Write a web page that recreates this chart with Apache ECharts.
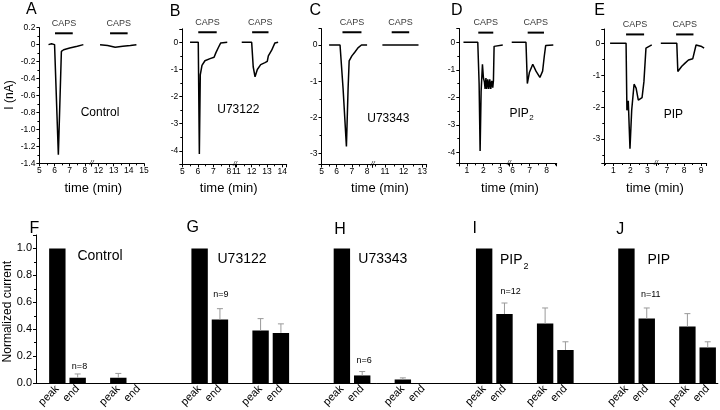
<!DOCTYPE html>
<html><head><meta charset="utf-8">
<script src="https://cdn.jsdelivr.net/npm/echarts@6/dist/echarts.min.js"></script>
<style>html,body{margin:0;padding:0;background:#fff}#c{width:720px;height:410px}</style>
</head><body><div id="c"></div>
<script>
// ---------------- DATA ----------------
// current traces [time (min), current (nA)]
const traceA1 = [[5.6,0],[5.8,0.01],[6.0,0],[6.12,-0.01],[6.25,-1.3],[6.45,-0.08],[6.6,-0.06],[7.0,-0.04],[7.5,-0.02],[7.9,0]];
const traceA2 = [[12.1,0],[12.6,-0.01],[13.1,-0.03],[13.6,-0.02],[14.1,-0.01],[14.5,0]];
const traceB1 = [[5.5,0],[6.03,0],[6.1,-4.12],[6.16,-1.2],[6.27,-0.85],[6.46,-0.68],[6.79,-0.6],[7.05,-0.55],[7.17,-0.38],[7.32,-0.2],[7.48,-0.02],[7.9,0]];
const traceB2 = [[11.35,0],[12.0,0],[12.1,-0.9],[12.22,-1.27],[12.37,-1.0],[12.59,-0.82],[12.87,-0.75],[13.02,-0.7],[13.09,-0.5],[13.3,-0.3],[13.52,-0.02],[13.73,0]];
const traceC1 = [[5.5,0],[6.22,0],[6.42,-1.2],[6.64,-2.8],[6.75,-1.2],[6.82,-0.44],[7.0,-0.3],[7.19,-0.2],[7.4,-0.08],[7.63,0],[8.0,0]];
const traceC2 = [[10.86,0],[11.5,0],[12.0,0],[12.8,0]];
const traceD1 = [[0.8,0],[1.66,0],[1.74,-1.5],[1.8,-3.95],[1.86,-1.8],[1.94,-0.8],[2.0,-1.3],[2.06,-1.45],[2.1,-1.7],[2.15,-1.3],[2.2,-1.7],[2.26,-1.35],[2.32,-1.7],[2.38,-1.35],[2.44,-1.7],[2.5,-1.4],[2.56,-1.65],[2.6,-1.4],[2.64,-0.15],[3.16,-0.1]];
const traceD2 = [[5.94,0],[6.78,0],[6.86,-1.5],[6.98,-1.1],[7.18,-0.8],[7.37,-1.05],[7.6,-1.28],[7.76,-1.05],[7.86,-0.5],[7.94,-0.12],[8.39,-0.1]];
const traceE1 = [[0.81,0],[1.75,0],[1.8,-2.1],[1.88,-1.8],[1.98,-3.3],[2.08,-2.1],[2.22,-1.28],[2.34,-1.4],[2.47,-1.78],[2.57,-1.82],[2.69,-1.7],[2.8,-1.2],[2.92,-0.15],[3.26,-0.05]];
const traceE2 = [[6.65,0],[7.58,0],[7.64,-0.88],[7.87,-0.72],[8.06,-0.62],[8.26,-0.52],[8.51,-0.48],[8.7,-0.05],[9.03,-0.1],[9.17,-0.15]];

// capsaicin application periods [start, end] (min) and level of the bar (nA)
const capsA = [[6.03,7.2],[12.76,13.92]];
const capsB = [[6.03,7.22],[12.03,13.1]];
const capsC = [[6.38,7.63],[11.36,12.3]];
const capsD = [[1.69,2.59],[6.88,7.84]];
const capsE = [[1.75,2.81],[7.54,8.55]];
const capsLevel = [0.134, 0.37, 0.35, 0.35, 0.28];

// normalized currents (mean) and SEM, order: peak, end, peak, end
const barCategories = ['peak','end','peak','end'];
const groupNames = ['Control','U73122','U73343','PIP2','PIP'];
const groupN = ['n=8','n=9','n=6','n=12','n=11'];
const controlMean = [1.0, 0.04, 0.04, 0.0];
const controlSem  = [0, 0.028, 0.032, 0];
const u73122Mean  = [1.0, 0.472, 0.39, 0.373];
const u73122Sem   = [0, 0.081, 0.089, 0.067];
const u73343Mean  = [1.0, 0.057, 0.027, 0.0];
const u73343Sem   = [0, 0.029, 0.012, 0];
const pip2Mean    = [1.0, 0.513, 0.442, 0.246];
const pip2Sem     = [0, 0.082, 0.116, 0.061];
const pipMean     = [1.0, 0.479, 0.42, 0.265];
const pipSem      = [0, 0.079, 0.096, 0.042];

// ---------------- LAYOUT ----------------
const FONT = "'Liberation Sans', Arial, sans-serif";
const isInt = v => Math.abs(v - Math.round(v)) < 1e-6;
const intFmt = v => isInt(v) ? String(Math.round(v)) : '';

const panels = [
  {traces:[traceA1,traceA2], caps:capsA, yMin:-1.4, yMax:0.2, yInterval:0.2, top:27.7, height:135.6,
   segs:[{x:39.4,w:52.3,min:5,max:8.45},{x:91.7,w:52.3,min:11.55,max:15}]},
  {traces:[traceB1,traceB2], caps:capsB, yMin:-4.5, yMax:0.5, top:28.8, height:135.5,
   segs:[{x:182.3,w:52.7,min:5,max:8.4},{x:235,w:51.7,min:10.91,max:14.29}]},
  {traces:[traceC1,traceC2], caps:capsC, yMin:-3.3, yMax:0.45, top:28.7, height:135.8,
   segs:[{x:321.5,w:51.2,min:5,max:8.37},{x:372.7,w:54,min:10.34,max:13.24}]},
  {traces:[traceD1,traceD2], caps:capsD, yMin:-4.4, yMax:0.5, top:28.5, height:134.8,
   segs:[{x:459.3,w:49.7,min:0.55,max:3.535},{x:509,w:47.7,min:5.78,max:8.59}]},
  {traces:[traceE1,traceE2], caps:capsE, yMin:-3.75, yMax:0.45, top:29, height:134,
   segs:[{x:604.3,w:51.7,min:0.47,max:3.51},{x:656,w:50.7,min:6.37,max:9.32}]}
];

const grids=[], xAxes=[], yAxes=[], series=[], graphics=[];
const axisLineStyle = {color:'#000', width:1};

panels.forEach((p, pi) => {
  p.segs.forEach((s, si) => {
    const gi = grids.length;
    grids.push({left:s.x, top:p.top, width:s.w, height:p.height});
    xAxes.push({type:'value', gridIndex:gi, min:s.min, max:s.max, minInterval:1, maxInterval:1,
      axisLine:{show:true, onZero:false, lineStyle:axisLineStyle},
      axisTick:{show:true, length:3, lineStyle:axisLineStyle},
      minorTick:{show:true, splitNumber:2, length:2, lineStyle:axisLineStyle},
      splitLine:{show:false}, minorSplitLine:{show:false},
      axisLabel:{show:true, fontSize:8.5, color:'#000', fontFamily:FONT, margin:3, formatter:intFmt}});
    const y = {type:'value', gridIndex:gi, min:p.yMin, max:p.yMax, show: si===0,
      axisLine:{show:true, onZero:false, lineStyle:axisLineStyle},
      axisTick:{show:true, length:3, lineStyle:axisLineStyle},
      minorTick:{show:true, splitNumber:2, length:2, lineStyle:axisLineStyle},
      splitLine:{show:false}, minorSplitLine:{show:false},
      axisLabel:{show:true, fontSize:8.5, color:'#000', fontFamily:FONT, margin:4}};
    if (p.yInterval) {
      y.interval = p.yInterval;
      y.axisLabel.formatter = v => Math.abs(v) < 1e-9 ? '0' : v.toFixed(1);
    } else {
      y.minInterval = 1; y.maxInterval = 1;
      y.axisLabel.formatter = intFmt;
    }
    yAxes.push(y);
    series.push({type:'line', xAxisIndex:gi, yAxisIndex:gi, data:p.traces[si], showSymbol:false, symbol:'none',
      lineStyle:{color:'#000', width:1.5}, silent:true});
    const c = p.caps[si], lvl = capsLevel[pi];
    series.push({type:'line', xAxisIndex:gi, yAxisIndex:gi, data:[[c[0],lvl],[c[1],lvl]], showSymbol:false, symbol:'none',
      lineStyle:{color:'#000', width:2}, silent:true, clip:false});
    series.push({type:'scatter', xAxisIndex:gi, yAxisIndex:gi, data:[[(c[0]+c[1])/2, lvl]], symbolSize:1,
      itemStyle:{color:'rgba(0,0,0,0)'}, clip:false, silent:true,
      label:{show:true, position:'top', distance:5, formatter:'CAPS', fontSize:9, color:'#000', fontFamily:FONT}});
  });
  // break mark
  const jx = p.segs[1].x, jy = p.top + p.height;
  graphics.push({type:'text', x:jx, y:jy, style:{text:'//', font:'italic 7px '+FONT, fill:'#000', align:'center', verticalAlign:'middle'}});
});

// bottom bar chart
const bg = grids.length;
grids.push({left:36, top:235, width:684, height:149.3});
const slotOffsets = [1,2,4,5];
const groupStride = 7;
const xLabels = [];
const allMeans = [controlMean,u73122Mean,u73343Mean,pip2Mean,pipMean];
const allSems = [controlSem,u73122Sem,u73343Sem,pip2Sem,pipSem];
const barData = [], errData = [];
allMeans.forEach((m, g) => {
  m.forEach((v, b) => {
    const slot = groupStride*g + slotOffsets[b];
    xLabels[slot] = barCategories[b];
    barData.push([slot, v]);
    errData.push([slot, v, allSems[g][b]]);
  });
});
xAxes.push({type:'value', gridIndex:bg, min:-0.05, max:33.5, minInterval:1, maxInterval:1,
  axisLine:{show:true, onZero:false, lineStyle:axisLineStyle}, axisTick:{show:false},
  splitLine:{show:false},
  axisLabel:{show:true, rotate:45, fontSize:11, color:'#000', fontFamily:FONT, margin:4,
    formatter: v => isInt(v) ? (xLabels[Math.round(v)] || '') : ''}});
yAxes.push({type:'value', gridIndex:bg, min:0, max:1.1, interval:0.2,
  axisLine:{show:true, onZero:false, lineStyle:axisLineStyle},
  axisTick:{show:true, length:3, lineStyle:axisLineStyle},
  minorTick:{show:true, splitNumber:2, length:2, lineStyle:axisLineStyle},
  splitLine:{show:false}, minorSplitLine:{show:false},
  axisLabel:{show:true, fontSize:11, color:'#000', fontFamily:FONT, margin:4,
    formatter: v => (Math.abs(v*5 - Math.round(v*5)) < 1e-6) ? v.toFixed(1) : ''}});
series.push({type:'bar', xAxisIndex:bg, yAxisIndex:bg, data:barData, barWidth:16.4, itemStyle:{color:'#000'}, silent:true});
series.push({type:'custom', xAxisIndex:bg, yAxisIndex:bg, data:errData, clip:false, silent:true, z:5,
  renderItem:(params, api) => {
    const x = api.value(0), v = api.value(1), e = api.value(2);
    if (!(e > 0)) return null;
    const p0 = api.coord([x, v]), p1 = api.coord([x, v + e]);
    return {type:'group', children:[
      {type:'line', shape:{x1:p0[0], y1:p0[1], x2:p1[0], y2:p1[1]}, style:{stroke:'#9a9a9a', lineWidth:1}},
      {type:'line', shape:{x1:p1[0]-3, y1:p1[1], x2:p1[0]+3, y2:p1[1]}, style:{stroke:'#9a9a9a', lineWidth:1}}
    ]};
  }});

// ---------------- TEXT ----------------
function txt(text, x, y, size, opts) {
  graphics.push(Object.assign({type:'text', x:x, y:y,
    style:{text:text, font:size+'px '+FONT, fill:'#000', align:'center', verticalAlign:'middle'}}, opts||{}));
}
// panel letters
[['A',31.3,9.5],['B',175,12],['C',315.3,11],['D',456.7,11],['E',599.7,11],
 ['F',34.5,228.8],['G',192.8,227.5],['H',340,230],['I',474.7,228.3],['J',620.3,229.2]].forEach(l => txt(l[0], l[1], l[2], 16));
// axis titles
txt('I (nA)', 9.2, 95, 12, {rotation:Math.PI/2});
txt('Normalized current', 7.2, 311.7, 12, {rotation:Math.PI/2});
[93.3, 228.7, 380, 510, 655].forEach(x => txt('time (min)', x, 188.3, 13));
// top panel names
txt(groupNames[0], 100, 113, 12);
txt(groupNames[1], 238.3, 110, 12);
txt(groupNames[2], 388.3, 118.7, 12);
txt('PIP', 519.2, 113.3, 12); txt('2', 531.5, 118, 8);
txt(groupNames[4], 673.3, 115, 12);
// bottom panel names
txt(groupNames[0], 100, 256.3, 14);
txt(groupNames[1], 242, 258.8, 14);
txt(groupNames[2], 382.8, 258.8, 14);
txt('PIP', 511.3, 260, 14); txt('2', 526, 266.5, 9);
txt(groupNames[4], 658.7, 260.3, 14);
// n labels
[[79.5,366.2],[220.8,294.7],[364.2,361],[510.7,292],[650.7,294.7]].forEach((p,i) => txt(groupN[i], p[0], p[1], 9));

const chart = echarts.init(document.getElementById('c'), null, {renderer:'canvas'});
chart.setOption({
  animation:false,
  backgroundColor:'#fff',
  grid:grids, xAxis:xAxes, yAxis:yAxes, series:series, graphic:graphics
});
</script></body></html>
